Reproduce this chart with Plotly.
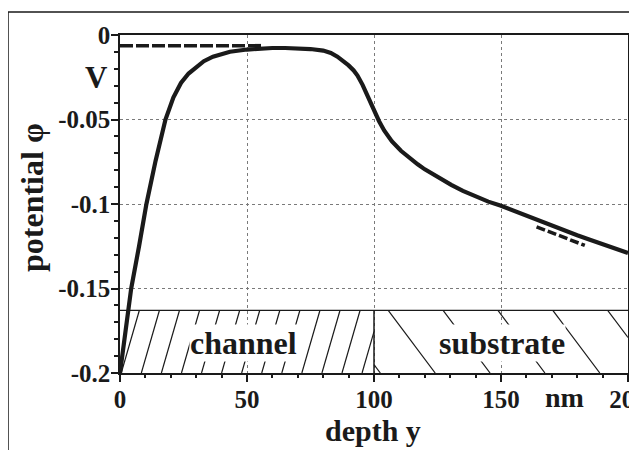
import plotly.graph_objects as go

# ---------------- data ----------------
depth_nm = [0, 2, 4.4, 7.5, 10.4, 14, 17.9, 21, 24, 27, 30, 33, 36.6, 40, 43.3, 50, 55, 60,
            65, 70, 75, 80, 83, 85.6, 88, 90, 92, 93.5, 95.5, 97.4, 100, 102, 104, 107,
            110.6, 114, 117.2, 120, 123.8, 127, 130.4, 135, 140, 145, 150, 155, 160, 165,
            170, 175, 180, 185, 190, 195, 200]
potential_V = [-0.200, -0.177, -0.150, -0.125, -0.100, -0.0745, -0.050, -0.037, -0.0284,
               -0.0228, -0.0188, -0.0155, -0.0128, -0.0110, -0.0099, -0.0086, -0.0080,
               -0.0077, -0.0077, -0.0079, -0.0083, -0.0092, -0.0106, -0.0128, -0.0155,
               -0.0180, -0.0210, -0.0240, -0.0295, -0.0360, -0.0444, -0.0510, -0.0565,
               -0.0628, -0.0685, -0.0730, -0.0765, -0.0795, -0.0830, -0.0858, -0.0887,
               -0.0922, -0.0955, -0.0986, -0.1010, -0.1040, -0.1067, -0.1095, -0.1125,
               -0.1155, -0.1185, -0.1212, -0.1240, -0.1265, -0.1290]

surface_dash_x = [0, 56]
surface_dash_y = [-0.0063, -0.0063]
tail_dash_x = [164, 183]
tail_dash_y = [-0.1135, -0.1245]

x_ticks = [0, 50, 100, 150, 200]
x_tick_labels = ["0", "50", "100", "150", "200"]
y_ticks = [0, -0.05, -0.1, -0.15, -0.2]
y_tick_labels = ["0", "-0.05", "-0.1", "-0.15", "-0.2"]

region_names = ["channel", "substrate"]
region_start = [0, 100]
region_end = [100, 200]
band_bottom = -0.2
band_top = -0.163

# ---------------- style ----------------
FONT = "Liberation Serif"
INK = "#1a1a1a"
BG = "#ffffff"
OFF = 8                      # page body margin of the browser
W, H = 637 - OFF, 450 - OFF
ML, MR, MT, MB = 112, 9, 27, 77
PW, PH = W - ML - MR, H - MT - MB


def px_to_paper_x(px):
    return (px - OFF - ML) / PW


def px_to_paper_y(py):
    return (H - MB - (py - OFF)) / PH


def hatch(x0, x1, first_bottom, spacing, shift):
    """Parallel hatch segments from band bottom to band top, clipped to [x0, x1]."""
    xs, ys = [], []
    b = first_bottom
    while b - abs(shift) < x1 + spacing:
        xb, xt = b, b + shift
        lo, hi = 0.0, 1.0
        if xt != xb:
            t0 = (x0 - xb) / (xt - xb)
            t1 = (x1 - xb) / (xt - xb)
            lo, hi = max(lo, min(t0, t1)), min(hi, max(t0, t1))
        if hi > lo:
            for t in (lo, hi):
                xs.append(xb + t * (xt - xb))
                ys.append(band_bottom + t * (band_top - band_bottom))
            xs.append(None)
            ys.append(None)
        b += spacing
    return xs, ys


fig = go.Figure()

# hatching of channel ("/") and substrate ("\")
hx1, hy1 = hatch(region_start[0], region_end[0], 0.5, 7.9, 7.1)
hx2, hy2 = hatch(region_start[1], region_end[1], 102.5 - 2 * 21.6, 21.6, -18.5)
fig.add_trace(go.Scatter(x=hx1 + hx2, y=hy1 + hy2, mode="lines",
                         line=dict(color=INK, width=1.2), hoverinfo="skip",
                         showlegend=False))

# band outline: top edge and boundary between regions
fig.add_trace(go.Scatter(x=[region_start[0], region_end[1]], y=[band_top, band_top],
                         mode="lines", line=dict(color=INK, width=1.3),
                         showlegend=False, hoverinfo="skip"))
fig.add_trace(go.Scatter(x=[region_end[0], region_end[0]], y=[band_bottom, band_top],
                         mode="lines", line=dict(color=INK, width=1.5),
                         showlegend=False, hoverinfo="skip"))

# dashed approximations
fig.add_trace(go.Scatter(x=surface_dash_x, y=surface_dash_y, mode="lines",
                         line=dict(color=INK, width=3.5, dash="13px,3px"),
                         showlegend=False))
fig.add_trace(go.Scatter(x=tail_dash_x, y=tail_dash_y, mode="lines",
                         line=dict(color=INK, width=3.5, dash="9px,3px"),
                         showlegend=False))

# potential curve
fig.add_trace(go.Scatter(x=depth_nm, y=potential_V, mode="lines",
                         line=dict(color=INK, width=4.2), showlegend=False))

axis_common = dict(
    showline=True, linecolor=INK, linewidth=1.5, mirror=True,
    ticks="outside", ticklen=7, tickwidth=1.5, tickcolor=INK,
    showgrid=True, gridcolor="#7a7a7a", griddash="dot", gridwidth=1,
    zeroline=False, tickmode="array", ticklabeloverflow="allow",
    tickfont=dict(family=FONT, size=25, color=INK, weight="bold"),
)

fig.update_xaxes(range=[0, 200], tickvals=x_ticks, ticktext=x_tick_labels,
                 ticklabelstandoff=-4,
                 minor=dict(dtick=10, ticks="outside", ticklen=3, tickcolor=INK,
                            showgrid=False),
                 **axis_common)
fig.update_yaxes(range=[-0.2, 0], tickvals=y_ticks, ticktext=y_tick_labels,
                 ticklabelstandoff=-4,
                 minor=dict(dtick=0.01, ticks="outside", ticklen=4, tickcolor=INK,
                            showgrid=False),
                 **axis_common)

bold = dict(family=FONT, color=INK, weight="bold")
annots = []
for name, s, e in zip(region_names, region_start, region_end):
    annots.append(dict(x=(s + e) / 2 - (1.2 if name == "channel" else -0.2),
                       y=-0.1824, xref="x", yref="y", text=name, showarrow=False,
                       xanchor="center", yanchor="middle",
                       font=dict(size=32, **bold), bgcolor=BG, borderpad=0))
annots += [
    dict(x=175, y=px_to_paper_y(397), xref="x", yref="paper", text="nm",
         xanchor="center", yanchor="middle", showarrow=False,
         font=dict(size=28, **bold)),
    dict(x=px_to_paper_x(96), y=-0.025, xref="paper", yref="y", text="V",
         xanchor="center", yanchor="middle", showarrow=False,
         font=dict(size=31, **bold)),
    dict(x=px_to_paper_x(373), y=px_to_paper_y(430), xref="paper", yref="paper",
         text="depth y", xanchor="center", yanchor="middle", showarrow=False,
         font=dict(size=30, **bold)),
    dict(x=px_to_paper_x(32), y=px_to_paper_y(198), xref="paper", yref="paper",
         text="potential φ", textangle=-90, xanchor="center", yanchor="middle",
         showarrow=False, font=dict(size=32, **bold)),
]

fig.update_layout(
    width=W, height=H,
    margin=dict(l=ML, r=MR, t=MT, b=MB, autoexpand=False),
    paper_bgcolor=BG, plot_bgcolor=BG,
    annotations=annots,
    shapes=[dict(type="rect", xref="paper", yref="paper",
                 x0=px_to_paper_x(8), x1=px_to_paper_x(635),
                 y0=px_to_paper_y(470), y1=px_to_paper_y(12),
                 line=dict(color=INK, width=1.5), layer="below")],
)

fig.write_html("out.html")
